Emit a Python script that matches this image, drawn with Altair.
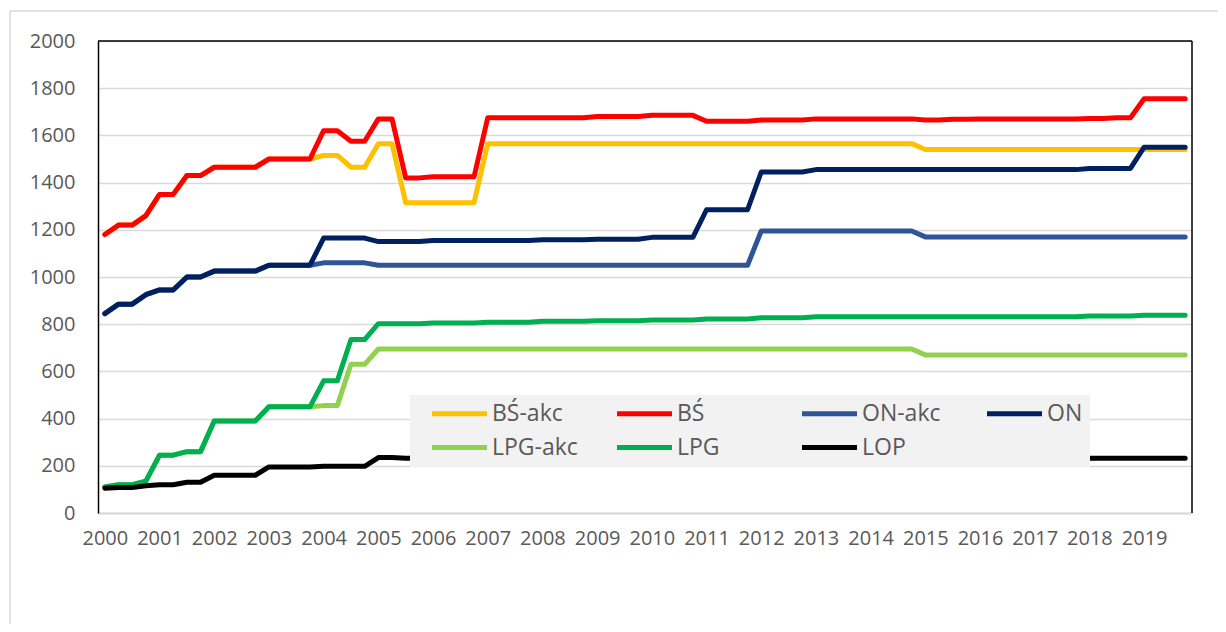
import altair as alt
import pandas as pd

years = list(range(2000, 2020))
quarters = [f"{y} Q{q}" for y in years for q in range(1, 5)]

series_names = ["BŚ-akc", "BŚ", "ON-akc", "ON", "LPG-akc", "LPG", "LOP"]
series_colors = ["#FFC000", "#FF0000", "#2F5597", "#002060", "#92D050", "#00B050", "#000000"]

bs_akc = [
    1180, 1220, 1220, 1260,  1350, 1350, 1430, 1430,  1465, 1465, 1465, 1465,  1500, 1500, 1500, 1500,
    1515, 1515, 1465, 1465,  1565, 1565, 1315, 1315,  1315, 1315, 1315, 1315,  1565, 1565, 1565, 1565,
    1565, 1565, 1565, 1565,  1565, 1565, 1565, 1565,  1565, 1565, 1565, 1565,  1565, 1565, 1565, 1565,
    1565, 1565, 1565, 1565,  1565, 1565, 1565, 1565,  1565, 1565, 1565, 1565,  1540, 1540, 1540, 1540,
    1540, 1540, 1540, 1540,  1540, 1540, 1540, 1540,  1540, 1540, 1540, 1540,  1540, 1540, 1540, 1540,
]
bs = [
    1180, 1220, 1220, 1260,  1350, 1350, 1430, 1430,  1465, 1465, 1465, 1465,  1500, 1500, 1500, 1500,
    1620, 1620, 1575, 1575,  1670, 1670, 1420, 1420,  1425, 1425, 1425, 1425,  1675, 1675, 1675, 1675,
    1675, 1675, 1675, 1675,  1680, 1680, 1680, 1680,  1685, 1685, 1685, 1685,  1660, 1660, 1660, 1660,
    1665, 1665, 1665, 1665,  1670, 1670, 1670, 1670,  1670, 1670, 1670, 1670,  1665, 1665, 1668, 1668,
    1670, 1670, 1670, 1670,  1670, 1670, 1670, 1670,  1672, 1672, 1675, 1675,  1755, 1755, 1755, 1755,
]
on_akc = [
    845, 885, 885, 925,  945, 945, 1000, 1000,  1025, 1025, 1025, 1025,  1050, 1050, 1050, 1050,
    1060, 1060, 1060, 1060,  1050, 1050, 1050, 1050,  1050, 1050, 1050, 1050,  1050, 1050, 1050, 1050,
    1050, 1050, 1050, 1050,  1050, 1050, 1050, 1050,  1050, 1050, 1050, 1050,  1050, 1050, 1050, 1050,
    1195, 1195, 1195, 1195,  1195, 1195, 1195, 1195,  1195, 1195, 1195, 1195,  1170, 1170, 1170, 1170,
    1170, 1170, 1170, 1170,  1170, 1170, 1170, 1170,  1170, 1170, 1170, 1170,  1170, 1170, 1170, 1170,
]
on = [
    845, 885, 885, 925,  945, 945, 1000, 1000,  1025, 1025, 1025, 1025,  1050, 1050, 1050, 1050,
    1165, 1165, 1165, 1165,  1150, 1150, 1150, 1150,  1155, 1155, 1155, 1155,  1155, 1155, 1155, 1155,
    1158, 1158, 1158, 1158,  1160, 1160, 1160, 1160,  1168, 1168, 1168, 1168,  1285, 1285, 1285, 1285,
    1445, 1445, 1445, 1445,  1455, 1455, 1455, 1455,  1455, 1455, 1455, 1455,  1455, 1455, 1455, 1455,
    1455, 1455, 1455, 1455,  1455, 1455, 1455, 1455,  1460, 1460, 1460, 1460,  1550, 1550, 1550, 1550,
]
lpg_akc = [
    110, 120, 120, 135,  245, 245, 260, 260,  390, 390, 390, 390,  450, 450, 450, 450,
    455, 455, 630, 630,  695, 695, 695, 695,  695, 695, 695, 695,  695, 695, 695, 695,
    695, 695, 695, 695,  695, 695, 695, 695,  695, 695, 695, 695,  695, 695, 695, 695,
    695, 695, 695, 695,  695, 695, 695, 695,  695, 695, 695, 695,  670, 670, 670, 670,
    670, 670, 670, 670,  670, 670, 670, 670,  670, 670, 670, 670,  670, 670, 670, 670,
]
lpg = [
    110, 120, 120, 135,  245, 245, 260, 260,  390, 390, 390, 390,  450, 450, 450, 450,
    560, 560, 735, 735,  802, 802, 802, 802,  805, 805, 805, 805,  808, 808, 808, 808,
    812, 812, 812, 812,  815, 815, 815, 815,  818, 818, 818, 818,  822, 822, 822, 822,
    827, 827, 827, 827,  832, 832, 832, 832,  832, 832, 832, 832,  832, 832, 832, 832,
    832, 832, 832, 832,  832, 832, 832, 832,  835, 835, 835, 835,  838, 838, 838, 838,
]
lop = [
    105, 108, 108, 115,  120, 120, 130, 130,  160, 160, 160, 160,  195, 195, 195, 195,
    198, 198, 198, 198,  235, 235, 232, 232,  232, 232, 232, 232,  232, 232, 232, 232,
    232, 232, 232, 232,  232, 232, 232, 232,  232, 232, 232, 232,  232, 232, 232, 232,
    232, 232, 232, 232,  232, 232, 232, 232,  232, 232, 232, 232,  232, 232, 232, 232,
    232, 232, 232, 232,  232, 232, 232, 232,  232, 232, 232, 232,  232, 232, 232, 232,
]

all_series = [bs_akc, bs, on_akc, on, lpg_akc, lpg, lop]
y_ticks = list(range(0, 2001, 200))

rows = []
for name, vals in zip(series_names, all_series):
    for q, v in zip(quarters, vals):
        rows.append({"kw": q, "seria": name, "v": v})
df = pd.DataFrame(rows)

W, H = 1094, 472
FONT = "Open Sans"
GREY = "#595959"
GRID = "#D9D9D9"
NBSP = "\u00a0" * 6  # widens the last legend column so the grey box reaches its full width

lines = alt.Chart(df).mark_line(strokeWidth=5, strokeCap="round", strokeJoin="round").encode(
    x=alt.X("kw:O", sort=quarters, scale=alt.Scale(padding=0.5),
            axis=alt.Axis(title=None, labelAngle=0, ticks=False, grid=False,
                          domainColor=GRID, domainWidth=2, labelOverlap=False,
                          labelExpr="indexof(datum.label, 'Q1') > 0 ? substring(datum.label, 0, 4) : ''",
                          labelFont=FONT, labelFontSize=20, labelColor=GREY, labelPadding=15)),
    y=alt.Y("v:Q", scale=alt.Scale(domain=[0, 2000], nice=False),
            axis=alt.Axis(title=None, values=y_ticks, format="d", ticks=False, grid=True, gridColor=GRID,
                          gridWidth=1.5, domainColor="#000000", domainWidth=1.5,
                          labelFont=FONT, labelFontSize=20, labelColor=GREY, labelPadding=23)),
    color=alt.Color("seria:N", scale=alt.Scale(domain=series_names, range=series_colors),
                    legend=alt.Legend(title=None, orient="none", legendX=312, legendY=354,
                                      direction="horizontal",
                                      columns=4, gridAlign="all", columnPadding=24, rowPadding=10,
                                      fillColor="#F2F2F2", padding=7,
                                      symbolType="M-5,0H5", symbolSize=121, symbolStrokeWidth=5,
                                      symbolOffset=31, labelOffset=21,
                                      labelExpr=f"datum.label == 'ON' ? 'ON{NBSP}' : datum.label",
                                      labelFont=FONT, labelFontSize=23, labelColor=GREY)),
)

one = pd.DataFrame({"a": [0]})
top_border = alt.Chart(one).mark_rule(color="#000000", strokeWidth=1.5).encode(
    x=alt.value(0), x2=alt.value(W), y=alt.value(0))
right_border = alt.Chart(one).mark_rule(color="#000000", strokeWidth=1.5).encode(
    x=alt.value(W), y=alt.value(0), y2=alt.value(H))
frame_left = alt.Chart(one).mark_rule(color=GRID, strokeWidth=1.5).encode(
    x=alt.value(-88), y=alt.value(-30), y2=alt.value(600))
frame_top = alt.Chart(one).mark_rule(color=GRID, strokeWidth=1.5).encode(
    x=alt.value(-88), x2=alt.value(1130), y=alt.value(-30))

chart = alt.layer(lines, top_border, right_border, frame_left, frame_top).properties(
    width=W, height=H,
    autosize=alt.AutoSizeParams(type="none"),
    padding={"left": 90, "top": 33, "right": 26, "bottom": 111},
    background="white",
).configure_view(stroke="transparent")

chart.save("out.html", embed_options={"renderer": "svg", "actions": False})
